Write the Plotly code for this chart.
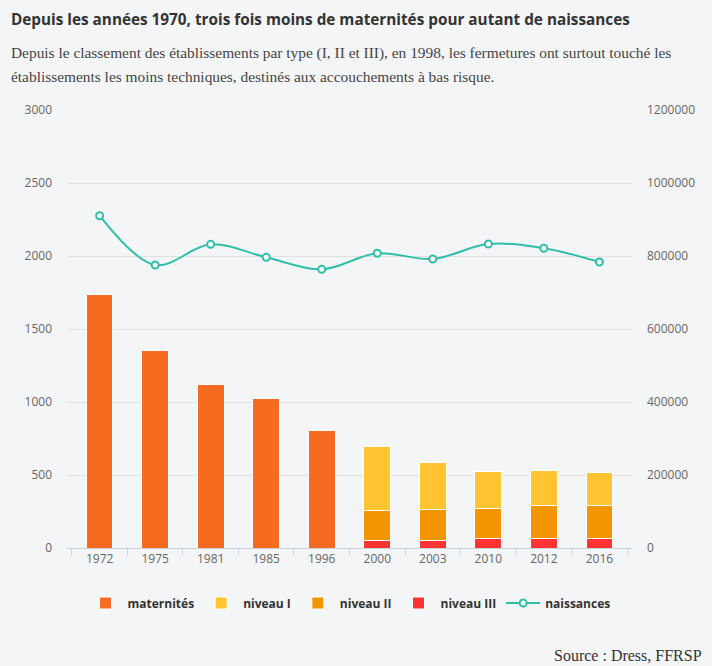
import plotly.graph_objects as go

years = ["1972", "1975", "1981", "1985", "1996", "2000", "2003", "2010", "2012", "2016"]
maternites = [1737, 1352, 1119, 1023, 803, None, None, None, None, None]
niveau_1 = [None, None, None, None, None, 432, 322, 253, 246, 220]
niveau_2 = [None, None, None, None, None, 212, 219, 212, 224, 232]
niveau_3 = [None, None, None, None, None, 48, 48, 62, 64, 62]
naissances = [910400, 775300, 832000, 796400, 763500, 807400, 791800, 832900, 821100, 783600]

left_ticks = [0, 500, 1000, 1500, 2000, 2500, 3000]
right_ticks = [0, 200000, 400000, 600000, 800000, 1000000, 1200000]

BG = "#f4f5f7"
L, R, T, B = 67, 80, 110, 118
W, H = 712, 666
pw, ph = W - L - R, H - T - B

def px(x):
    return (x - L) / pw

def py(y):
    return (H - B - y) / ph

fig = go.Figure()
bar_line = dict(color="white", width=1)
fig.add_trace(go.Bar(x=years, y=maternites, name="maternités", marker=dict(color="#f76b20", line=bar_line), legendrank=1))
fig.add_trace(go.Bar(x=years, y=niveau_3, name="niveau III", marker=dict(color="#ff3333", line=bar_line), legendrank=4))
fig.add_trace(go.Bar(x=years, y=niveau_2, name="niveau II", marker=dict(color="#f29500", line=bar_line), legendrank=3))
fig.add_trace(go.Bar(x=years, y=niveau_1, name="niveau I", marker=dict(color="#ffc42f", line=bar_line), legendrank=2))
fig.add_trace(go.Scatter(x=years, y=naissances, name="naissances", yaxis="y2", mode="lines+markers",
                         line=dict(color="#2ebfa8", width=2, shape="spline", smoothing=1),
                         marker=dict(size=7, color="white", line=dict(color="#2ebfa8", width=2)),
                         legendrank=5))

tickfont = dict(family="Open Sans", size=12, color="#666")
fig.update_layout(
    width=W, height=H,
    margin=dict(l=L, r=R, t=T, b=B, autoexpand=False),
    paper_bgcolor=BG, plot_bgcolor=BG,
    barmode="stack", bargap=0.52,
    showlegend=True,
    legend=dict(orientation="h", x=0.5, xanchor="center", y=py(603), yanchor="middle",
                font=dict(family="Open Sans", size=12, color="#333", weight="bold"),
                bgcolor="rgba(0,0,0,0)", traceorder="normal", itemwidth=34),
    xaxis=dict(type="category", showgrid=False, showline=True, linecolor="#c6d3e3", linewidth=1,
               ticks="outside", tickson="boundaries", ticklen=6, tickcolor="#c6d3e3",
               tickfont=tickfont, automargin=False),
    yaxis=dict(range=[0, 3000], tickvals=left_ticks, showgrid=True, gridcolor="#e0e0e0", gridwidth=1,
               zeroline=False, showline=False, tickfont=tickfont, ticklabelstandoff=14, automargin=False),
    yaxis2=dict(range=[0, 1200000], tickvals=right_ticks, overlaying="y", side="right", showgrid=False,
                zeroline=False, showline=False, tickfont=tickfont, ticklabelstandoff=14,
                tickformat="d", automargin=False),
    annotations=[
        dict(text="<b>Depuis les années 1970, trois fois moins de maternités pour autant de naissances</b>",
             xref="paper", yref="paper", x=px(9), y=py(19), xanchor="left", yanchor="middle",
             showarrow=False, font=dict(family="Open Sans", size=15.3, color="#333")),
        dict(text="Depuis le classement des établissements par type (I, II et III), en 1998, les fermetures ont surtout touché les",
             xref="paper", yref="paper", x=px(9), y=py(53), xanchor="left", yanchor="middle",
             showarrow=False, font=dict(family="Liberation Serif", size=15.4, color="#444")),
        dict(text="établissements les moins techniques, destinés aux accouchements à bas risque.",
             xref="paper", yref="paper", x=px(9), y=py(76), xanchor="left", yanchor="middle",
             showarrow=False, font=dict(family="Liberation Serif", size=15.4, color="#444")),
        dict(text="Source : Dress, FFRSP",
             xref="paper", yref="paper", x=px(704), y=py(655), xanchor="right", yanchor="middle",
             showarrow=False, font=dict(family="Liberation Serif", size=16, color="#333")),
    ],
)

fig.write_html("out.html", config={"displayModeBar": False},
               post_script="document.body.style.margin='0';document.body.style.overflow='hidden';")
